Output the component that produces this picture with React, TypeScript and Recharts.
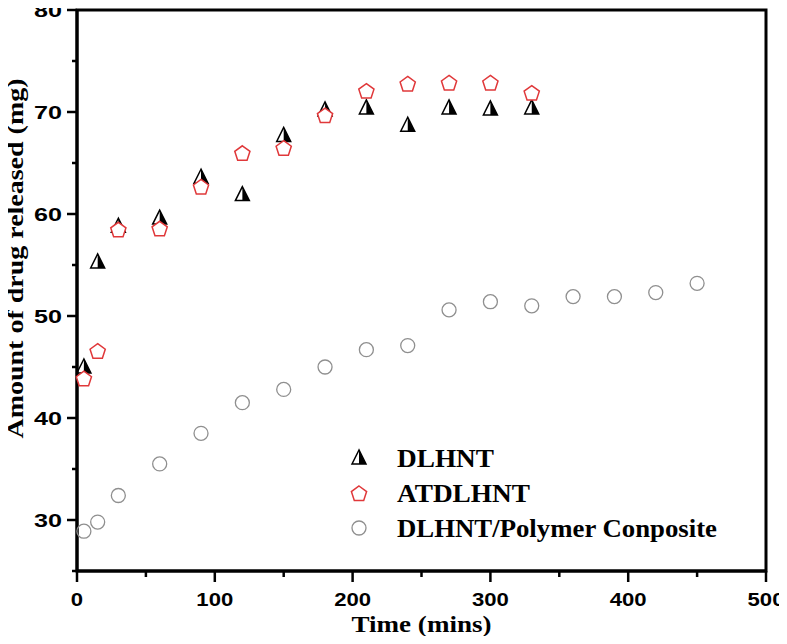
import React from "react";
import { ScatterChart, Scatter, XAxis, YAxis, Label, ReferenceArea } from "recharts";

// sampling times (mins)
const TIMES = [5, 15, 30, 60, 90, 120, 150, 180, 210, 240, 270, 300, 330];
const TIMES_POLY = [5, 15, 30, 60, 90, 120, 150, 180, 210, 240, 270, 300, 330, 360, 390, 420, 450];

// amount of drug released (mg)
const DLHNT = [45.0, 55.3, 58.8, 59.6, 63.6, 61.9, 67.7, 70.2, 70.4, 68.7, 70.4, 70.3, 70.4];
const ATDLHNT = [43.9, 46.6, 58.5, 58.6, 62.7, 66.0, 66.5, 69.7, 72.1, 72.8, 72.9, 72.9, 71.9];
const POLYMER = [28.9, 29.8, 32.4, 35.5, 38.5, 41.5, 42.8, 45.0, 46.7, 47.1, 50.6, 51.4, 51.0, 51.9, 51.9, 52.3, 53.2];

const SERIES_NAMES = ["DLHNT", "ATDLHNT", "DLHNT/Polymer Conposite"];

const X_TICKS = [0, 50, 100, 150, 200, 250, 300, 350, 400, 450, 500];
const Y_TICKS = [25, 30, 35, 40, 45, 50, 55, 60, 65, 70, 75, 80];

const RED = "#e0383a";
const GREY = "#8f8f8f";
const SANS = "'Liberation Sans', Arial, sans-serif";
const SERIF = "'Liberation Serif', 'Times New Roman', serif";

const toPoints = (ts: number[], vs: number[]) => ts.map((t, i) => ({ t, v: vs[i] }));

function HalfTriangle({ cx, cy }: any) {
  const top = `${cx},${cy - 8}`;
  return (
    <g>
      <polygon points={`${top} ${cx + 7},${cy + 6} ${cx},${cy + 6}`} fill="#000" />
      <polygon
        points={`${top} ${cx - 7},${cy + 6} ${cx + 7},${cy + 6}`}
        fill="none"
        stroke="#000"
        strokeWidth={1.5}
      />
    </g>
  );
}

function Pentagon({ cx, cy }: any) {
  const r = 8;
  const pts = [0, 1, 2, 3, 4]
    .map((i) => {
      const a = ((-90 + 72 * i) * Math.PI) / 180;
      return `${cx + r * Math.cos(a)},${cy + 1 + r * Math.sin(a)}`;
    })
    .join(" ");
  return <polygon points={pts} fill="#fff" stroke={RED} strokeWidth={1.5} />;
}

function Ring({ cx, cy }: any) {
  return <circle cx={cx} cy={cy} r={7} fill="none" stroke={GREY} strokeWidth={1.3} />;
}

function XTick({ x, y, payload }: any) {
  const v = payload.value;
  const major = v % 100 === 0;
  const s = String(v);
  return (
    <g>
      <line x1={x} x2={x} y1={y} y2={y + (major ? 11 : 6)} stroke="#000" strokeWidth={2.5} />
      {major && (
        <text
          x={x}
          y={y + 28}
          textAnchor="middle"
          dominantBaseline="central"
          fontFamily={SANS}
          fontWeight="bold"
          fontSize={19}
          textLength={s.length * 12.3}
          lengthAdjust="spacingAndGlyphs"
        >
          {s}
        </text>
      )}
    </g>
  );
}

function YTick({ x, y, payload }: any) {
  const v = payload.value;
  const major = v % 10 === 0;
  const s = String(v);
  return (
    <g>
      <line x1={x - (major ? 10 : 5)} x2={x} y1={y} y2={y} stroke="#000" strokeWidth={2.5} />
      {major && (
        <text
          x={x - 15}
          y={y}
          textAnchor="end"
          dominantBaseline="central"
          fontFamily={SANS}
          fontWeight="bold"
          fontSize={19}
          textLength={s.length * 14}
          lengthAdjust="spacingAndGlyphs"
        >
          {s}
        </text>
      )}
    </g>
  );
}

const xTitle = (props: any) => {
  const { x, width } = props.viewBox;
  return (
    <text
      x={x + width / 2}
      y={632}
      textAnchor="middle"
      fontFamily={SERIF}
      fontWeight="bold"
      fontSize={24}
      textLength={140}
      lengthAdjust="spacingAndGlyphs"
    >
      Time (mins)
    </text>
  );
};

const yTitle = (props: any) => {
  const { y, height } = props.viewBox;
  const cy = y + height / 2 - 32;
  return (
    <text
      x={15}
      y={cy}
      transform={`rotate(-90 15 ${cy})`}
      textAnchor="middle"
      dominantBaseline="central"
      fontFamily={SERIF}
      fontWeight="bold"
      fontSize={24}
      textLength={360}
      lengthAdjust="spacingAndGlyphs"
    >
      Amount of drug released (mg)
    </text>
  );
};

const LEGEND_SHAPES = [HalfTriangle, Pentagon, Ring];
const LEGEND_WIDTHS = [97, 133, 320];

export default function App() {
  const axisLine = { stroke: "#000", strokeWidth: 3 };
  return (
    <div style={{ position: "relative", width: 787, height: 644, margin: -8 }}>
      <ScatterChart width={787} height={644} margin={{ top: 10, right: 21, bottom: 0, left: 0 }}>
        <XAxis
          type="number"
          dataKey="t"
          domain={[0, 500]}
          ticks={X_TICKS}
          interval={0}
          height={73}
          tickSize={0}
          tickMargin={0}
          tickLine={false}
          axisLine={axisLine}
          tick={<XTick />}
        >
          <Label content={xTitle} />
        </XAxis>
        <YAxis
          type="number"
          dataKey="v"
          domain={[25, 80]}
          ticks={Y_TICKS}
          interval={0}
          width={77}
          tickSize={0}
          tickMargin={0}
          tickLine={false}
          axisLine={axisLine}
          tick={<YTick />}
        >
          <Label content={yTitle} />
        </YAxis>
        <ReferenceArea x1={0} x2={500} y1={25} y2={80} fill="none" stroke="#000" strokeWidth={3} />
        <Scatter
          name={SERIES_NAMES[0]}
          data={toPoints(TIMES, DLHNT)}
          shape={(p: any) => <HalfTriangle cx={p.cx} cy={p.cy} />}
          isAnimationActive={false}
        />
        <Scatter
          name={SERIES_NAMES[1]}
          data={toPoints(TIMES, ATDLHNT)}
          shape={(p: any) => <Pentagon cx={p.cx} cy={p.cy} />}
          isAnimationActive={false}
        />
        <Scatter
          name={SERIES_NAMES[2]}
          data={toPoints(TIMES_POLY, POLYMER)}
          shape={(p: any) => <Ring cx={p.cx} cy={p.cy} />}
          isAnimationActive={false}
        />
      </ScatterChart>
      <svg width={380} height={110} style={{ position: "absolute", left: 348, top: 438 }}>
        {SERIES_NAMES.map((name, i) => {
          const Shape = LEGEND_SHAPES[i];
          const cy = 20 + i * 35;
          return (
            <g key={name}>
              <Shape cx={11} cy={cy} />
              <text
                x={49}
                y={cy}
                dominantBaseline="central"
                fontFamily={SERIF}
                fontWeight="bold"
                fontSize={25}
                textLength={LEGEND_WIDTHS[i]}
                lengthAdjust="spacingAndGlyphs"
              >
                {name}
              </text>
            </g>
          );
        })}
      </svg>
    </div>
  );
}
